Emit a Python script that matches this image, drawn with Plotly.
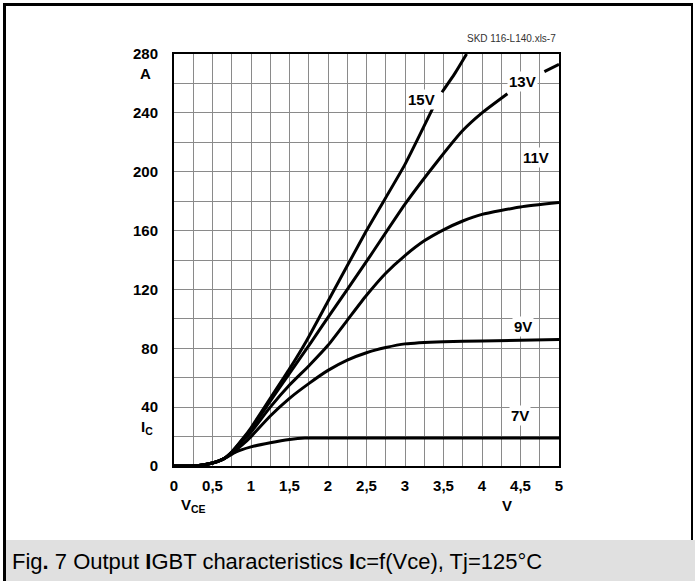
import plotly.graph_objects as go

# ---- data ----
v15 = [0, 0.3, 0.5, 0.65, 0.75, 0.9, 1.0, 1.25, 1.5, 1.72, 2.0, 2.5, 3.0, 3.36, None, 3.48, 3.65, 3.8]
i15 = [0, 0.2, 2, 5, 9.5, 19, 26, 46, 66, 85, 112, 160, 205, 243, None, 254, 267, 280]

v13 = [0, 0.3, 0.5, 0.65, 0.75, 0.9, 1.0, 1.25, 1.5, 1.78, 2.0, 2.5, 3.0, 3.45, 3.75, 4.0, 4.33, None, 4.81, 5.0]
i13 = [0, 0.2, 2, 5, 9.5, 18.5, 25, 44, 63, 84, 101, 139, 178, 209, 228, 240, 253, None, 268, 273]

v11 = [0, 0.3, 0.5, 0.65, 0.75, 0.9, 1.0, 1.25, 1.5, 1.75, 2.0, 2.25, 2.5, 2.75, 3.0, 3.25, 3.5, 3.75, 4.0, 4.5, 5.0]
i11 = [0, 0.2, 2, 5, 9.2, 17.5, 23, 40, 55, 68, 82, 99, 116, 131, 143, 153, 160.5, 166.5, 171, 176, 179]

v9 = [0, 0.3, 0.5, 0.65, 0.75, 0.9, 1.0, 1.25, 1.5, 1.75, 2.0, 2.25, 2.5, 2.75, 3.0, 3.5, 4.0, 5.0]
i9 = [0, 0.2, 2, 5, 8.5, 15, 20, 34, 46, 56, 65, 72, 77, 80.5, 83, 84.5, 85, 86]

v7 = [0, 0.3, 0.5, 0.65, 0.8, 1.0, 1.25, 1.5, 1.7, 2.5, 5.0]
i7 = [0, 0.2, 2, 5, 9.5, 13, 15.8, 18, 19, 19, 19]

curve_labels = ["15V", "13V", "11V", "9V", "7V"]
label_x = [3.21, 4.52, 4.70, 4.53, 4.49]
label_y = [249, 261, 210, 95, 34]

x_tickvals = [0, 0.5, 1, 1.5, 2, 2.5, 3, 3.5, 4, 4.5, 5]
x_ticktext = ["0", "0,5", "1", "1,5", "2", "2,5", "3", "3,5", "4", "4,5", "5"]
y_tickvals = [0, 40, 80, 120, 160, 200, 240, 280]
y_ticktext = ["0", "40", "80", "120", "160", "200", "240", "280"]

caption = "Fig<b>.</b> 7 Output <b>I</b>GBT characteristics <b>I</b>c=f(Vce), Tj=125°C"
source_tag = "SKD 116-L140.xls-7"

# ---- figure ----
FONT = "Liberation Sans, Arial, sans-serif"
fig = go.Figure()
for xs, ys in [(v7, i7), (v9, i9), (v11, i11), (v13, i13), (v15, i15)]:
    fig.add_trace(go.Scatter(x=xs, y=ys, mode="lines",
                             line=dict(color="black", width=3, shape="spline", smoothing=0.5),
                             connectgaps=False, hoverinfo="skip", showlegend=False))

W, H = 695, 581
L, R, T, B = 174, 136, 54, 115
pw, ph = W - L - R, H - T - B

def px(x):
    return (x - L) / pw

def py(y):
    return (H - B - y) / ph

GRID = "#8a8a8a"
fig.update_layout(
    width=W, height=H, autosize=False,
    margin=dict(l=L, r=R, t=T, b=B, pad=0),
    paper_bgcolor="white", plot_bgcolor="white",
    showlegend=False,
    font=dict(family=FONT, color="black"),
    xaxis=dict(range=[0, 5], tickvals=x_tickvals, ticktext=x_ticktext,
               showgrid=True, gridcolor=GRID, gridwidth=1,
               minor=dict(dtick=0.25, showgrid=True, gridcolor=GRID, gridwidth=1),
               showline=True, linecolor="black", linewidth=2, mirror=True,
               ticks="", ticklabelstandoff=5, zeroline=False,
               tickfont=dict(family=FONT, size=15, color="black", weight="bold")),
    yaxis=dict(range=[0, 280], tickvals=y_tickvals, ticktext=y_ticktext,
               showgrid=True, gridcolor=GRID, gridwidth=1,
               minor=dict(dtick=20, showgrid=True, gridcolor=GRID, gridwidth=1),
               showline=True, linecolor="black", linewidth=2, mirror=True,
               ticks="", ticklabelstandoff=11, zeroline=False,
               tickfont=dict(family=FONT, size=15, color="black", weight="bold")),
)

# curve labels with white background cutting the grid
for t, x, y in zip(curve_labels, label_x, label_y):
    fig.add_annotation(x=x, y=y, xref="x", yref="y", text="<b>" + t + "</b>",
                       showarrow=False, bgcolor="white", borderpad=1,
                       xanchor="center", yanchor="middle",
                       font=dict(family=FONT, size=15, color="black"))

def note(x, y, text, size=15, color="black", xanchor="center"):
    fig.add_annotation(x=px(x), y=py(y), xref="paper", yref="paper", text=text,
                       showarrow=False, xanchor=xanchor, yanchor="middle",
                       font=dict(family=FONT, size=size, color=color))

# axis unit / name labels
note(145, 73, "<b>A</b>")
note(147, 427, "<b>I<sub>C</sub></b>")
note(193, 505, "<b>V<sub>CE</sub></b>")
note(507, 505, "<b>V</b>")
note(511, 38, source_tag, size=10, color="#333333")

# outer frame and caption band
fig.add_shape(type="rect", xref="paper", yref="paper", layer="below",
              x0=px(6), x1=px(700), y0=py(540), y1=py(590),
              fillcolor="#e0e0e0", line=dict(width=0))
fig.add_shape(type="line", xref="paper", yref="paper",
              x0=px(4.5), x1=px(4.5), y0=py(3), y1=py(590), line=dict(color="black", width=3))
fig.add_shape(type="line", xref="paper", yref="paper",
              x0=px(3), x1=px(692.5), y0=py(4.5), y1=py(4.5), line=dict(color="black", width=3))
fig.add_shape(type="line", xref="paper", yref="paper",
              x0=px(692), x1=px(692), y0=py(3), y1=py(540), line=dict(color="black", width=2))
note(10, 561, caption, size=22, xanchor="left")

fig.write_html("out.html", config={"displayModeBar": False},
               post_script="document.body.style.margin='0';document.body.style.padding='0';"
                           "document.documentElement.style.overflow='hidden';")
